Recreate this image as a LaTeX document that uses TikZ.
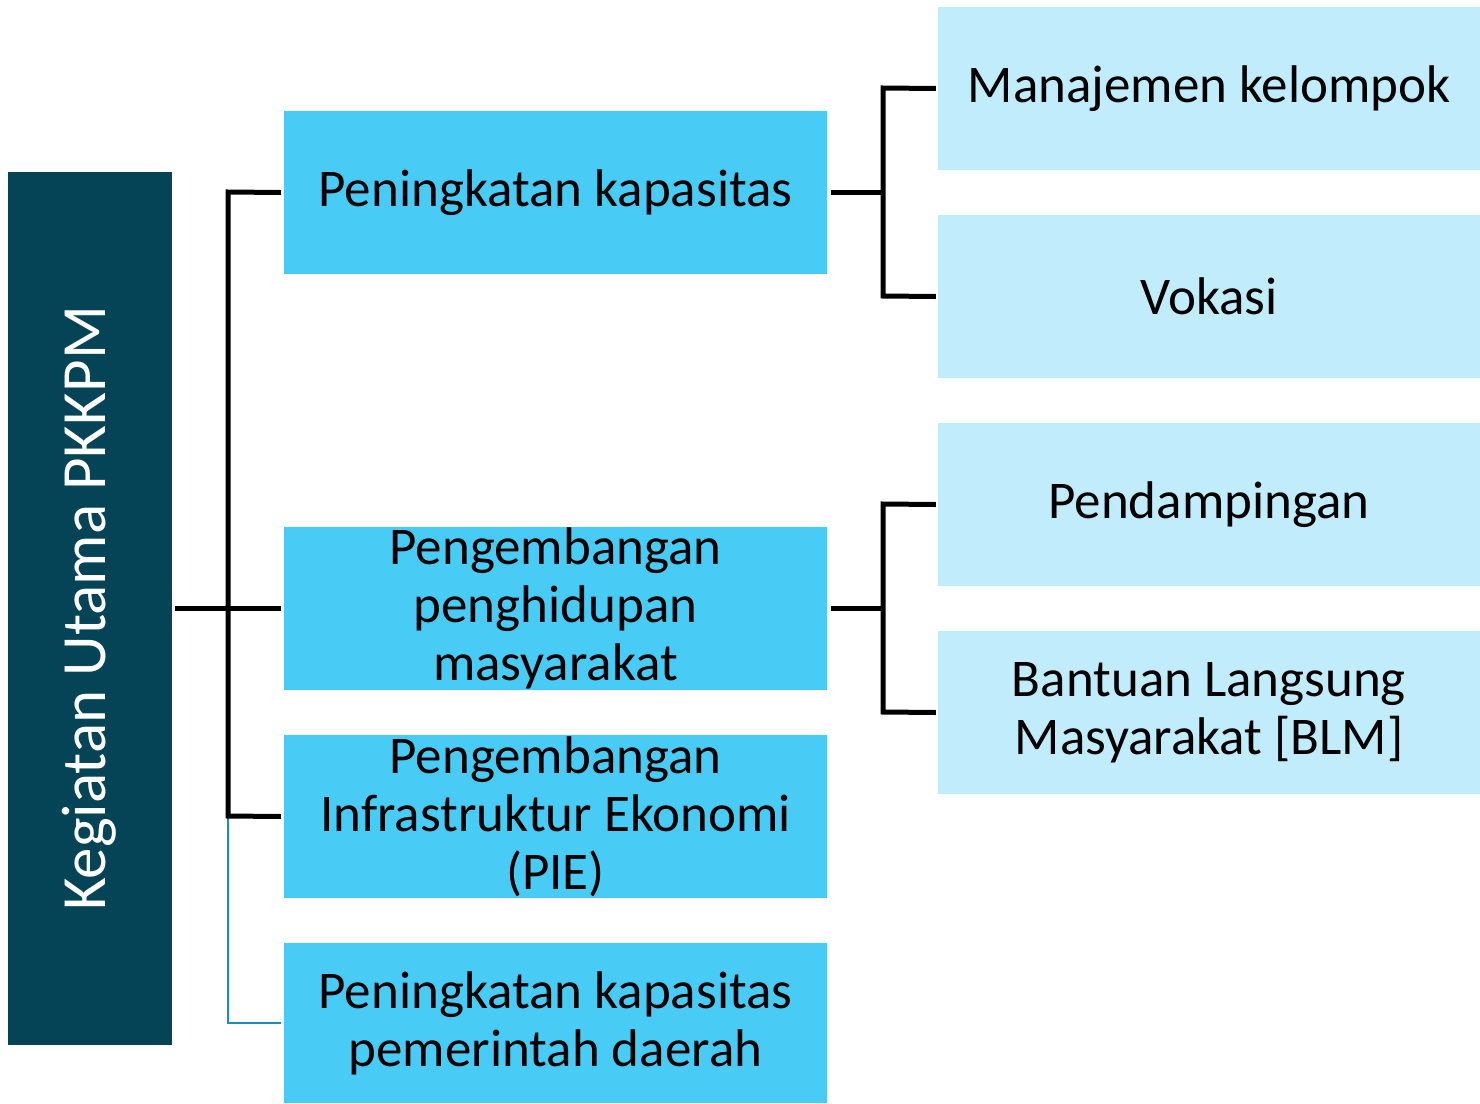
\documentclass[tikz,border=0pt]{standalone}
\usepackage{fontspec}
\setmainfont{Carlito}
\definecolor{darkteal}{HTML}{054356}
\definecolor{midblue}{HTML}{48CCF6}
\definecolor{lightblue}{HTML}{C1ECFB}
\definecolor{thinblue}{HTML}{1A8DBF}
\begin{document}
\begin{tikzpicture}[x=1pt,y=-1pt,
  midbox/.style={fill=midblue,draw=none,minimum width=543pt,minimum height=163pt,inner sep=0pt,align=center,font=\fontsize{53}{58}\selectfont},
  litebox/.style={fill=lightblue,draw=none,minimum width=542pt,minimum height=163pt,inner sep=0pt,align=center,font=\fontsize{53}{58}\selectfont},
  conn/.style={line width=5pt,draw=black},
  thinconn/.style={line width=1.6pt,draw=thinblue}]
\useasboundingbox (0,0) rectangle (1480,1103);
\fill[white] (0,0) rectangle (1480,1103);
\node[fill=darkteal,minimum width=164pt,minimum height=873pt,inner sep=0pt] (root) at (90,608.5) {};
\node[rotate=90,text=white,font=\fontsize{63}{70}\selectfont] (roottxt) at (89,608.5) {Kegiatan Utama PKKPM};
\node[midbox] (m1) at (555.5,192.5) {Peningkatan kapasitas};
\node[midbox] (m2) at (555.5,608.5) {Pengembangan\\penghidupan\\masyarakat};
\node[midbox] (m3) at (555.5,816.5) {Pengembangan\\Infrastruktur Ekonomi\\(PIE)};
\node[midbox,minimum height=160pt] (m4) at (555.5,1023) {Peningkatan kapasitas\\pemerintah daerah};
\node[litebox] (r1) at (1209,88.5) {Manajemen kelompok};
\node[litebox] (r2) at (1209,296.5) {Vokasi};
\node[litebox] (r3) at (1209,504.5) {Pendampingan};
\node[litebox] (r4) at (1209,712.5) {Bantuan Langsung\\Masyarakat [BLM]};
\coordinate (t1) at (228,192);
\coordinate (t3) at (228,816);
\coordinate (t4) at (228,1023);
\coordinate (a1) at (883,88);
\coordinate (a2) at (883,296);
\coordinate (a3) at (883,504);
\coordinate (a4) at (883,712);
% thin blue branch
\draw[thinconn] (t3) -- (t4) -- ([xshift=-3pt]m4.west |- t4);
% main trunk
\draw[conn] ([xshift=-3pt]m1.west) -- (t1) -- (t3) -- ([xshift=-3pt]m3.west);
\draw[conn] ([xshift=3pt]root.east) -- ([xshift=-3pt]m2.west);
% right trees
\draw[conn] ([xshift=4pt]m1.east) -- (m1.east -| a1);
\draw[conn] ([xshift=-2pt]r1.west) -- (a1) -- (a2) -- ([xshift=-2pt]r2.west);
\draw[conn] ([xshift=4pt]m2.east) -- (m2.east -| a3);
\draw[conn] ([xshift=-2pt]r3.west) -- (a3) -- (a4) -- ([xshift=-2pt]r4.west);
\end{tikzpicture}
\end{document}
